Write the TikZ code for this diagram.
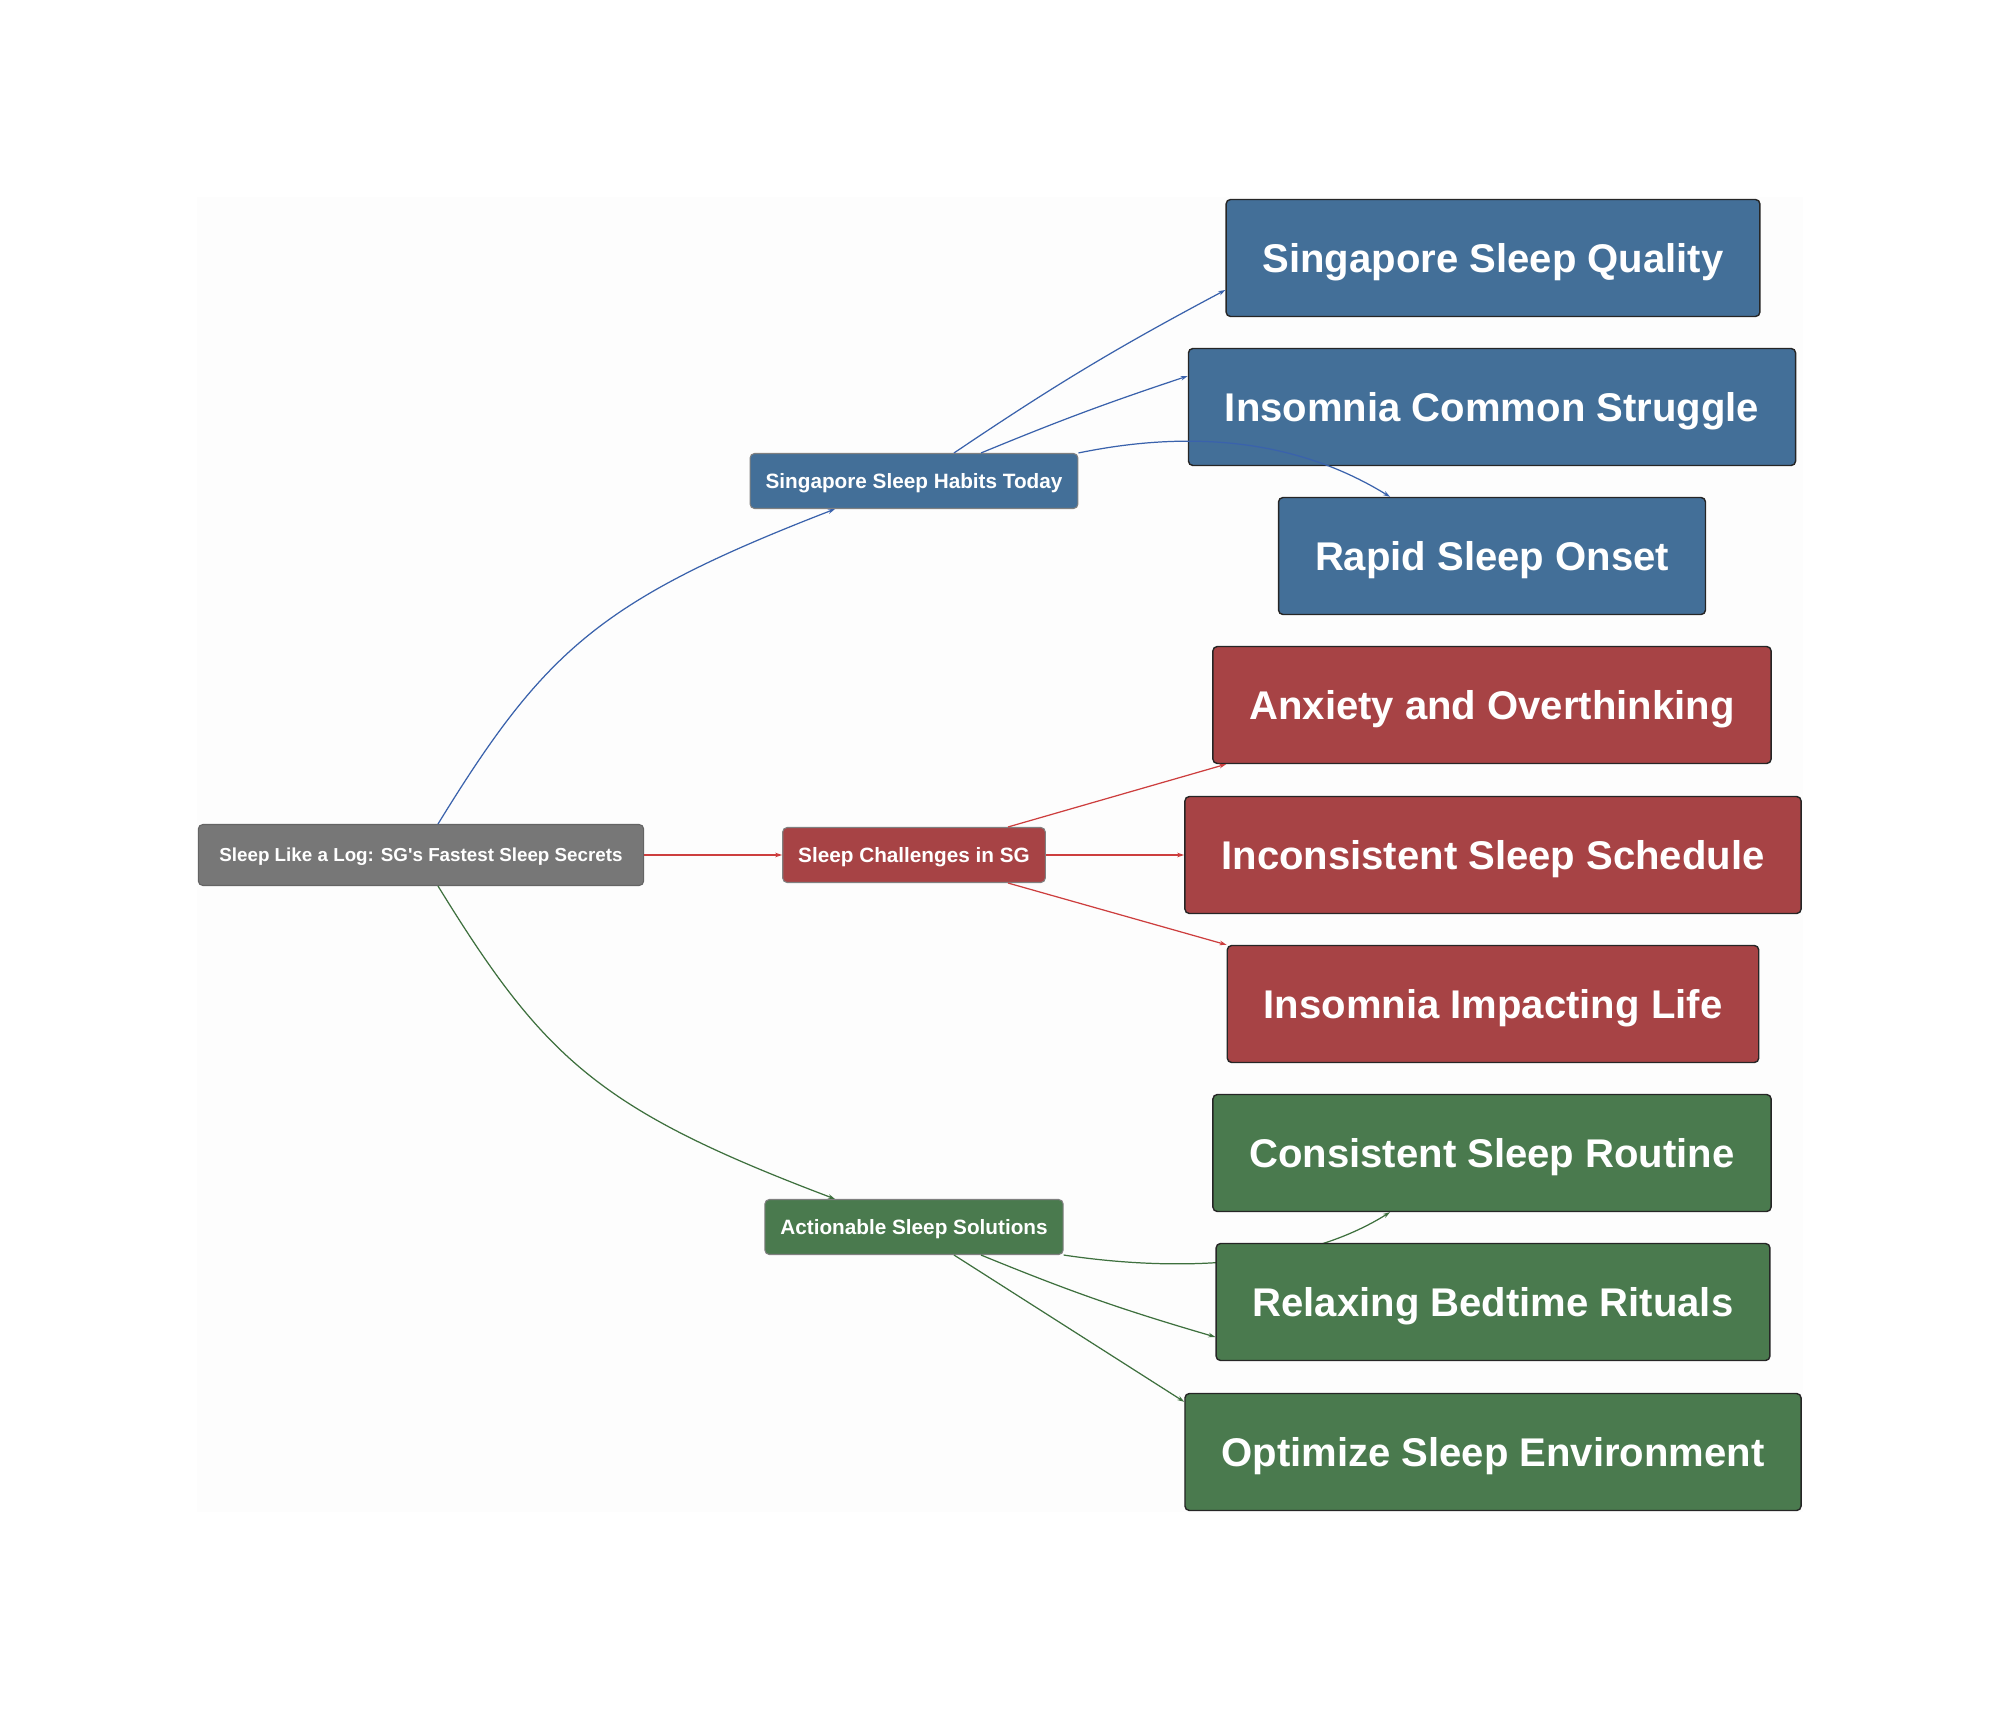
\documentclass[tikz,border=0pt]{standalone}
\usepackage{fontspec}
\setmainfont{Liberation Sans}
\usetikzlibrary{arrows.meta, positioning}
\definecolor{nodegray}{RGB}{119, 119, 119}
\definecolor{rootedge}{RGB}{100, 100, 100}
\definecolor{nodeblue}{RGB}{67, 111, 152}
\definecolor{nodered}{RGB}{167, 67, 69}
\definecolor{nodegreen}{RGB}{74, 122, 78}
\definecolor{edgeblue}{RGB}{58, 98, 172}
\definecolor{edgered}{RGB}{205, 62, 62}
\definecolor{edgegreen}{RGB}{62, 112, 62}
\definecolor{paperbg}{RGB}{253, 253, 253}
\pgfdeclarelayer{background}
\pgfsetlayers{background,main}

\begin{document}
\begin{tikzpicture}[x=0.02cm, y=-0.02cm,
  rootbox/.style={draw=rootedge, fill=nodegray, rounded corners=2.5pt, line width=0.6pt, text=white,
    font=\fontsize{10.7}{12}\selectfont\bfseries, inner xsep=0.42cm, minimum height=1.22cm,
    text height=7.9pt, text depth=0pt},
  midbox/.style={draw=gray, rounded corners=2.5pt, line width=0.6pt, text=white,
    font=\fontsize{11.8}{13}\selectfont\bfseries, inner xsep=0.31cm, minimum height=1.1cm,
    text height=8.7pt, text depth=0pt},
  leafbox/.style={draw=black!85, rounded corners=2.5pt, line width=0.8pt, text=white,
    font=\fontsize{22.8}{25}\selectfont\bfseries, inner xsep=0.73cm, minimum height=2.34cm,
    text height=16.8pt, text depth=0pt},
  link/.style={-{Stealth[length=4pt,width=2.6pt]}, line width=0.7pt}]

  \useasboundingbox (0,0) rectangle (2000,1709);
  \begin{pgfonlayer}{background}
    \fill[paperbg] (197,197) rectangle (1803,1512);
  \end{pgfonlayer}

  % Root
  \node[rootbox] (root) at (421,855) {Sleep Like a Log: SG\textquotesingle s Fastest Sleep Secrets};

  % Branches
  \node[midbox, fill=nodeblue] (habits) at (914,481) {Singapore Sleep Habits Today};
  \node[midbox, fill=nodered] (chall) at (914,855) {Sleep Challenges in SG};
  \node[midbox, fill=nodegreen] (sol) at (914,1227) {Actionable Sleep Solutions};

  % Leaves
  \node[leafbox, fill=nodeblue] (quality) at (1493,258) {Singapore Sleep Quality};
  \node[leafbox, fill=nodeblue] (struggle) at (1492,407) {Insomnia Common Struggle};
  \node[leafbox, fill=nodeblue] (onset) at (1492,556) {Rapid Sleep Onset};
  \node[leafbox, fill=nodered] (anxiety) at (1492,705) {Anxiety and Overthinking};
  \node[leafbox, fill=nodered] (incons) at (1493,855) {Inconsistent Sleep Schedule};
  \node[leafbox, fill=nodered] (impact) at (1493,1004) {Insomnia Impacting Life};
  \node[leafbox, fill=nodegreen] (routine) at (1492,1153) {Consistent Sleep Routine};
  \node[leafbox, fill=nodegreen] (ritual) at (1493,1302) {Relaxing Bedtime Rituals};
  \node[leafbox, fill=nodegreen] (environ) at (1493,1452) {Optimize Sleep Environment};

  % Root to branches
  \draw[link, edgeblue] ([xshift=0.34cm]root.north) .. controls (545,650) and (600,600) .. ([xshift=-1.58cm]habits.south);
  \draw[link, edgered] (root.east) -- (chall.west);
  \draw[link, edgegreen] ([xshift=0.34cm]root.south) .. controls (545,1060) and (600,1110) .. ([xshift=-1.58cm]sol.north);

  % Habits
  \draw[link, edgeblue] ([xshift=0.8cm]habits.north) to[bend left=3] ([yshift=-0.64cm]quality.west);
  \draw[link, edgeblue] ([xshift=1.34cm]habits.north) to[bend left=2] ([yshift=0.62cm]struggle.west);
  \draw[link, edgeblue] (habits.north east) .. controls (1180,432) and (1290,435) .. ([xshift=-2.04cm]onset.north);

  % Challenges
  \draw[link, edgered] ([xshift=1.88cm]chall.north) -- ([xshift=0.28cm]anxiety.south west);
  \draw[link, edgered] (chall.east) -- (incons.west);
  \draw[link, edgered] ([xshift=1.88cm]chall.south) -- (impact.north west);

  % Solutions
  \begin{pgfonlayer}{background}
    \draw[link, edgegreen] (sol.south east) .. controls (1150,1268) and (1290,1275) .. ([xshift=-2.04cm]routine.south);
  \end{pgfonlayer}
  \draw[link, edgegreen] ([xshift=1.34cm]sol.south) to[bend right=3] ([yshift=-0.7cm]ritual.west);
  \draw[link, edgegreen] ([xshift=0.8cm]sol.south) -- ([yshift=-0.18cm]environ.north west);
\end{tikzpicture}
\end{document}
